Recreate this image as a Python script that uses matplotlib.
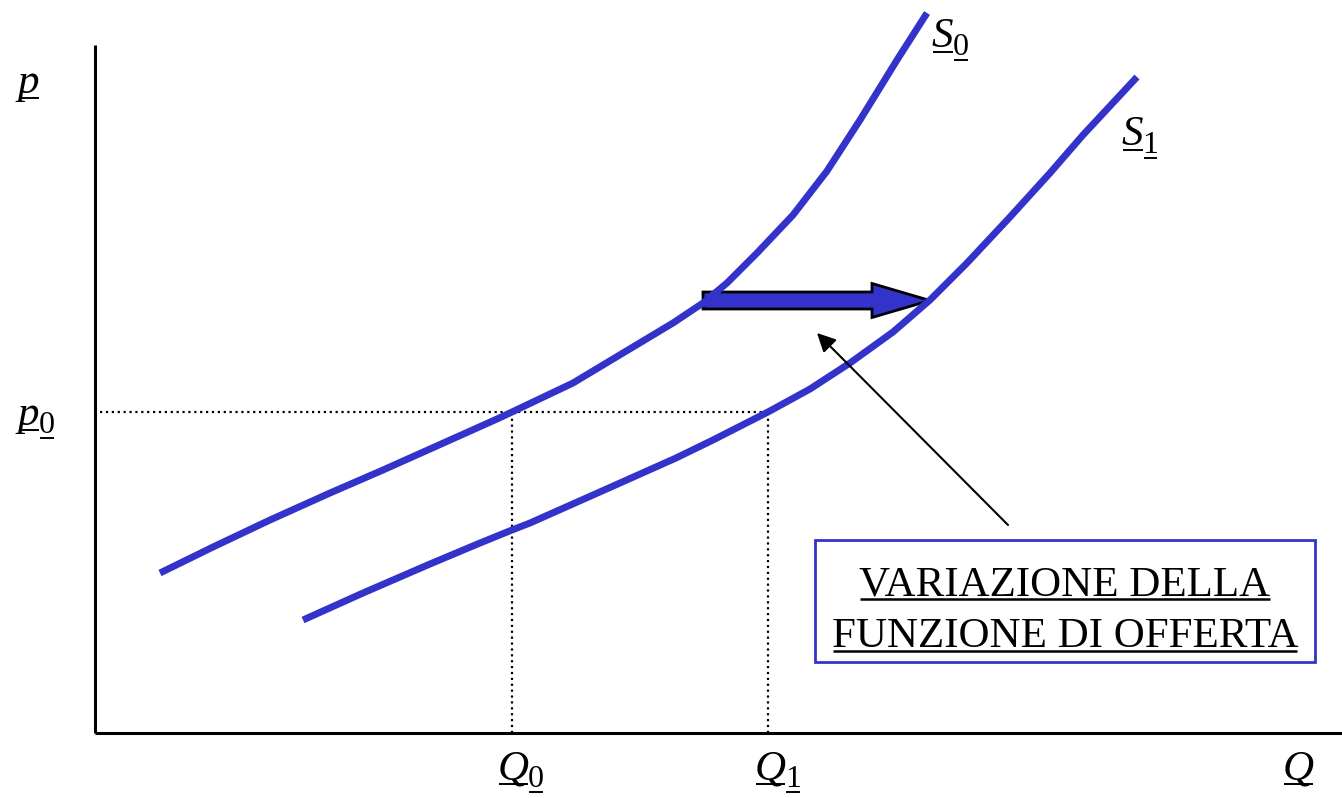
import matplotlib
matplotlib.use("Agg")
import matplotlib.pyplot as plt
import matplotlib.patches as mpatches

# supply curves (Q on x, p on y, origin at the axes corner)
s0_q = [65, 118, 175, 235, 288, 335, 402, 417, 478, 528, 578, 608, 632, 662, 698, 732, 765, 802, 832]
s0_p = [160, 186, 213, 240, 263, 284, 314, 321, 350, 380, 410, 430, 450, 480, 518, 562, 613, 673, 720]

s1_q = [208, 268, 335, 385, 417, 435, 525, 581, 618, 673, 715, 755, 798, 835, 872, 915, 955, 988, 1042]
s1_p = [113, 140, 169, 190, 203, 210, 250, 275, 293, 321, 344, 370, 401, 433, 470, 516, 560, 598, 656]

# equilibrium price and quantities
p0 = 321
q0 = 417
q1 = 673

box_lines = ["VARIAZIONE DELLA", "FUNZIONE DI OFFERTA"]

BLUE = "#3333CC"
SERIF = "Liberation Serif"

fig = plt.figure(figsize=(13.42, 7.98), dpi=100)
ax = fig.add_axes([0, 0, 1, 1])
ax.set_xlim(-95, 1247)
ax.set_ylim(-65, 733)
ax.axis("off")
renderer = fig.canvas.get_renderer()


def underline(t, y, lw=1.4):
    bb = t.get_window_extent(renderer).transformed(ax.transData.inverted())
    ax.plot([bb.x0 + 1, bb.x1 - 1], [y, y], color="black", lw=lw, solid_capstyle="butt")
    return bb


def var_label(x, y, letter, sub=None):
    t = ax.text(x, y, letter, fontsize=31, family=SERIF, style="italic",
                ha="left", va="baseline")
    bb = underline(t, y - 5)
    if sub is not None:
        s = ax.text(bb.x1 - 1, y - 8, sub, fontsize=23, family=SERIF,
                    ha="left", va="baseline")
        underline(s, y - 13)


# axes
ax.plot([0, 0], [0, 688], color="black", lw=2.2, solid_capstyle="butt")
ax.plot([0, 1247], [0, 0], color="black", lw=2.2, solid_capstyle="butt")

# dotted guides
ax.plot([5, q1], [p0, p0], color="black", lw=1.6, ls=":")
ax.plot([q0, q0], [0, p0], color="black", lw=1.6, ls=":")
ax.plot([q1, q1], [0, p0], color="black", lw=1.6, ls=":")

# supply curves
ax.plot(s0_q, s0_p, color=BLUE, lw=5, solid_capstyle="butt", solid_joinstyle="round")
ax.plot(s1_q, s1_p, color=BLUE, lw=5, solid_capstyle="butt", solid_joinstyle="round")

# shift arrow
ax.add_patch(mpatches.FancyArrow(608, 432.5, 227, 0, width=17, head_width=34,
                                 head_length=58, length_includes_head=True,
                                 fc=BLUE, ec="black", lw=2))

# annotation box + pointer
ax.add_patch(mpatches.Rectangle((720, 71), 500, 122, fill=False, ec=BLUE, lw=2))
ax.annotate("", xy=(722, 400), xytext=(913, 208),
            arrowprops=dict(arrowstyle="-|>", color="black", lw=1.5,
                            mutation_scale=28, shrinkA=0, shrinkB=0))
for i, line in enumerate(box_lines):
    yb = 138 - i * 52
    t = ax.text(970, yb, line, fontsize=31, family=SERIF, ha="center", va="baseline")
    underline(t, yb - 4, lw=1.8)

# axis / curve labels
var_label(-77, 640, "p")
var_label(-77, 308, "p", "0")
var_label(837, 686, "S", "0")
var_label(1027, 588, "S", "1")
var_label(403, -46, "Q", "0")
var_label(660, -46, "Q", "1")
var_label(1188, -46, "Q")

fig.savefig("out.png", dpi=100)
